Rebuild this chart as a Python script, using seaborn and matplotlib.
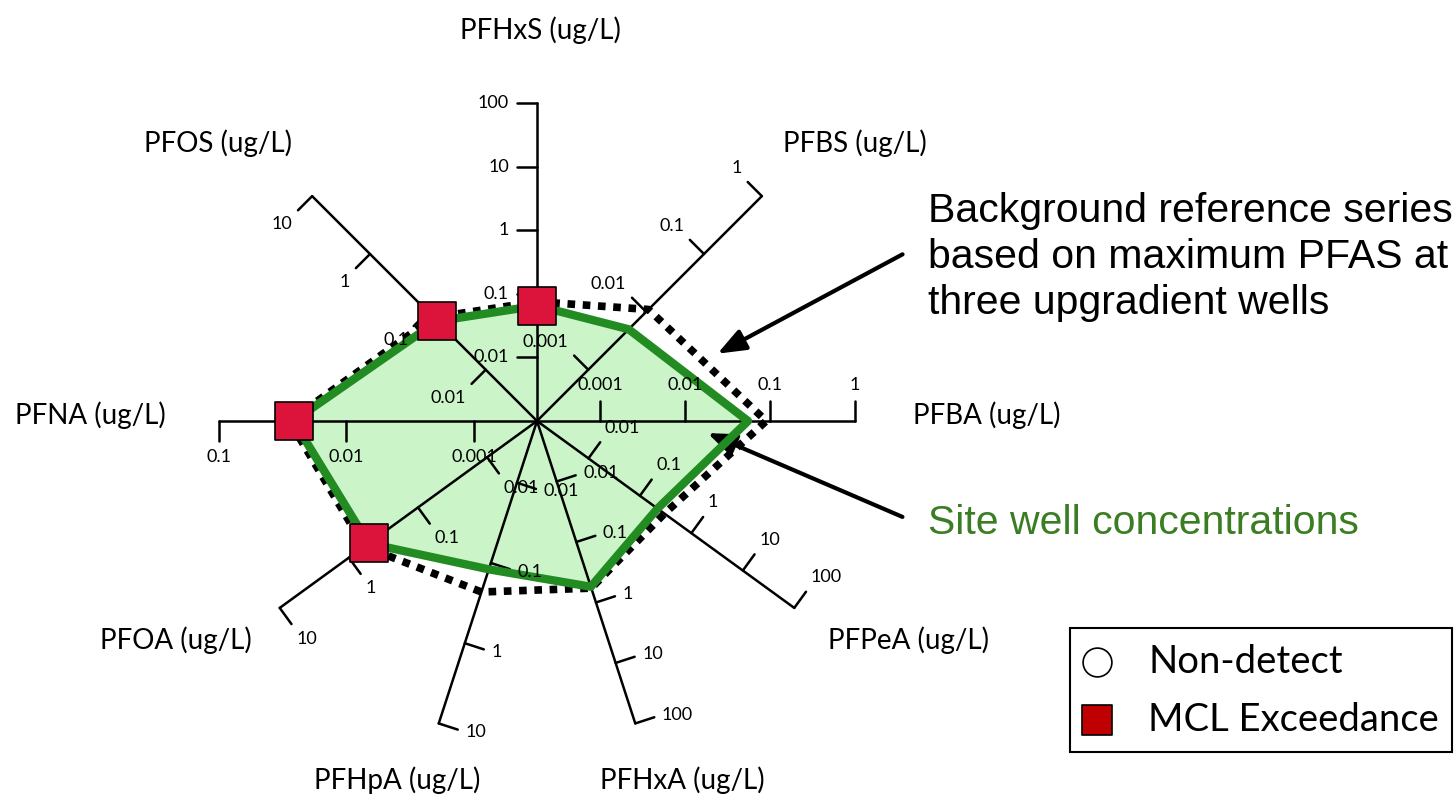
import numpy as np
import pandas as pd
import seaborn as sns
import matplotlib.pyplot as plt
from matplotlib.patches import Rectangle

# one spoke per analyte, each with its own log scale (ug/L)
analytes = ['PFHxS', 'PFBS', 'PFBA', 'PFPeA', 'PFHxA', 'PFHpA', 'PFOA', 'PFNA', 'PFOS']
axis_min = [0.001, 0.00013, 0.00018, 0.001, 0.001, 0.0017, 0.0019, 0.00032, 0.0013]
axis_max = [100, 1, 1, 100, 100, 10, 10, 0.1, 10]
site = [0.065, 0.005, 0.055, 0.22, 0.55, 0.12, 0.52, 0.026, 0.069]
background = [0.075, 0.011, 0.09, 0.3, 0.58, 0.23, 0.6, 0.028, 0.08]
mcl_exceedance = [True, False, False, False, False, False, True, True, True]

# layout (pixels)
W, H = 1454, 796
CX, CY = 537, 421
R = 318
angles_deg = [90, 45, 0, -36, -72, -108, -144, 180, 135]
name_pos = [(540, 30), (855, 143), (987, 415), (908, 640), (682, 780),
            (397, 780), (176, 640), (90, 415), (218, 143)]
TICK = 20
LABEL_OFF = 28

GREEN = '#228B22'
FILL = '#CBF5C8'
RED = '#DC143C'
TXT_GREEN = '#3B7D23'


def to_xy(i, v):
    lo, hi = np.log10(axis_min[i]), np.log10(axis_max[i])
    r = R * (np.log10(v) - lo) / (hi - lo)
    a = np.deg2rad(angles_deg[i])
    return CX + r * np.cos(a), CY - r * np.sin(a)


def series_frame(values, name):
    pts = [to_xy(i, v) for i, v in enumerate(values)]
    df = pd.DataFrame(pts, columns=['x', 'y'])
    df['analyte'] = analytes
    df['series'] = name
    return df


sns.set_theme(style='white')
plt.rcParams['font.family'] = ['Lato', 'DejaVu Sans']
plt.rcParams['text.color'] = 'black'

fig = plt.figure(figsize=(W / 100, H / 100), dpi=100)
ax = fig.add_axes([0, 0, 1, 1])
ax.set_xlim(0, W)
ax.set_ylim(H, 0)
ax.axis('off')

site_df = series_frame(site, 'Site')
bg_df = series_frame(background, 'Background')
site_closed = pd.concat([site_df, site_df.iloc[:1]], ignore_index=True)
bg_closed = pd.concat([bg_df, bg_df.iloc[:1]], ignore_index=True)

ax.fill(site_df['x'], site_df['y'], color=FILL, zorder=1, lw=0)

# spokes, ticks and tick labels
for i, name in enumerate(analytes):
    a = np.deg2rad(angles_deg[i])
    ex, ey = to_xy(i, axis_max[i])
    ax.plot([CX, ex], [CY, ey], color='black', lw=1.8, zorder=2)
    px, py = np.cos(a + np.pi / 2), -np.sin(a + np.pi / 2)
    ha = 'right' if px < -0.3 else ('left' if px > 0.3 else 'center')
    va = 'bottom' if py < -0.5 else ('top' if py > 0.5 else 'center')
    k0 = int(np.floor(np.log10(axis_min[i]))) + 1
    k1 = int(np.round(np.log10(axis_max[i])))
    for k in range(k0, k1 + 1):
        v = 10.0 ** k
        tx, ty = to_xy(i, v)
        ax.plot([tx, tx + TICK * px], [ty, ty + TICK * py], color='black', lw=1.8, zorder=2)
        ax.text(tx + LABEL_OFF * px, ty + LABEL_OFF * py, f'{v:g}', fontsize=13,
                ha=ha, va=va, zorder=6)
    nx, ny = name_pos[i]
    ax.text(nx, ny, f'{name} (ug/L)', fontsize=20, ha='center', va='center')

sns.lineplot(data=bg_closed, x='x', y='y', sort=False, estimator=None, ax=ax,
             color='black', lw=5.5, zorder=3)
ax.lines[-1].set_dashes((1, 1))
ax.lines[-1].set_dash_capstyle('butt')
sns.lineplot(data=site_closed, x='x', y='y', sort=False, estimator=None, ax=ax,
             color=GREEN, lw=6, zorder=4)
sns.scatterplot(data=site_df[mcl_exceedance], x='x', y='y', marker='s', s=780,
                color=RED, edgecolor='black', linewidth=1.2, ax=ax, zorder=5)

# annotations
arrow = dict(arrowstyle='-|>,head_length=0.85,head_width=0.33', lw=3, color='black',
             mutation_scale=20)
ax.annotate('', xy=(715, 355), xytext=(905, 253), arrowprops=arrow)
ax.annotate('', xy=(705, 432), xytext=(905, 518), arrowprops=arrow)
ax.text(928, 257, 'Background reference series\nbased on maximum PFAS at\nthree upgradient wells',
        fontsize=29.5, family='Liberation Sans', ha='left', va='center', linespacing=1.26)
ax.text(928, 523, 'Site well concentrations', fontsize=29.5, family='Liberation Sans',
        color=TXT_GREEN, ha='left', va='center')

# legend box
ax.add_patch(Rectangle((1070, 628), 382, 124, fill=False, edgecolor='black', lw=1.5, zorder=6))
ax.scatter([1097], [662], s=430, marker='o', facecolor='white', edgecolor='black', lw=1.2, zorder=7)
ax.scatter([1097], [720], s=450, marker='s', facecolor='#C00000', edgecolor='black', lw=1.2, zorder=7)
ax.text(1148, 662, 'Non-detect', fontsize=27.5, ha='left', va='center', zorder=7)
ax.text(1148, 720, 'MCL Exceedance', fontsize=27.5, ha='left', va='center', zorder=7)

fig.savefig('out.png', dpi=100)
